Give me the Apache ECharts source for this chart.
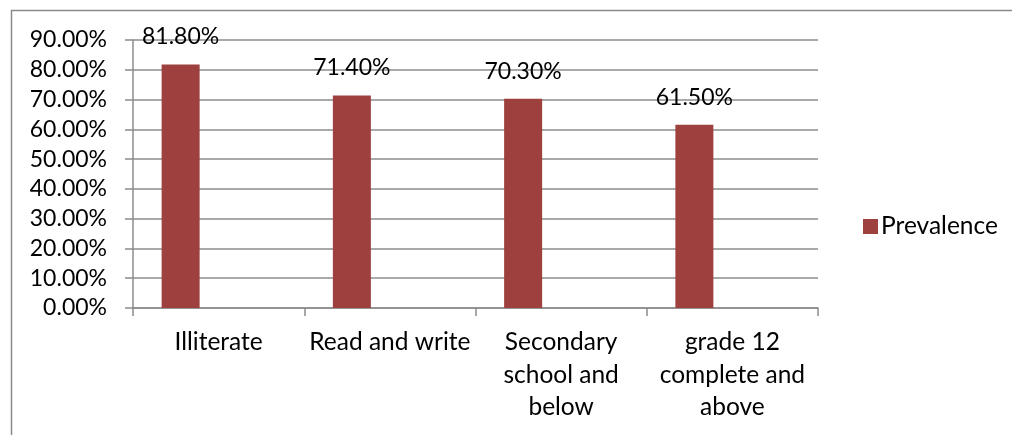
<!DOCTYPE html>
<html>
<head>
<meta charset="utf-8">
<style>
  html, body { margin: 0; padding: 0; background: #ffffff; }
  #chart { width: 1012px; height: 435px; }
</style>
<script src="https://cdn.jsdelivr.net/npm/echarts@6/dist/echarts.min.js"></script>
</head>
<body>
<div id="chart"></div>
<script>
// Prevalence by education level (percent)
const categories = ['Illiterate', 'Read and write', 'Secondary\nschool and\nbelow', 'grade 12\ncomplete and\nabove'];
const prevalence = [81.8, 71.4, 70.3, 61.5];
// Two unused slots in the cluster (no values), keeping the bar at the left of each group
const emptySlotA = [null, null, null, null];
const emptySlotB = [null, null, null, null];

const FONT = 'Lato, "Open Sans", sans-serif';
const GRID_COLOR = '#8c8c8c';
const BAR_COLOR = '#9e413e';

const chart = echarts.init(document.getElementById('chart'), null, { renderer: 'canvas' });

chart.setOption({
  animation: false,
  backgroundColor: '#ffffff',
  graphic: [{
    type: 'rect',
    shape: { x: 11.5, y: 10.5, width: 1200, height: 600 },
    style: { fill: null, stroke: '#8a8a8a', lineWidth: 1.5 },
    silent: true
  }],
  grid: { left: 133, right: 194, top: 40, bottom: 127, containLabel: false },
  legend: {
    data: ['Prevalence'],
    orient: 'vertical',
    left: 858,
    top: 209,
    itemWidth: 15,
    itemHeight: 15,
    itemGap: 8,
    icon: 'rect',
    textStyle: { fontFamily: FONT, fontSize: 24.5, color: '#000000', padding: [0, 0, 0, -2] }
  },
  xAxis: {
    type: 'category',
    data: categories,
    axisLine: { lineStyle: { color: GRID_COLOR, width: 1.5 } },
    axisTick: { show: true, length: 8, lineStyle: { color: GRID_COLOR, width: 1.5 } },
    axisLabel: {
      interval: 0,
      margin: 18,
      fontFamily: FONT,
      fontSize: 24.5,
      color: '#000000',
      lineHeight: 32.5,
      align: 'center'
    }
  },
  yAxis: {
    type: 'value',
    min: 0,
    max: 90,
    interval: 10,
    axisLine: { show: true, lineStyle: { color: GRID_COLOR, width: 1.5 } },
    axisTick: { show: true, length: 8, lineStyle: { color: GRID_COLOR, width: 1.5 } },
    splitLine: { show: true, lineStyle: { color: GRID_COLOR, width: 1.5 } },
    axisLabel: {
      margin: 26,
      fontFamily: FONT,
      fontSize: 23,
      color: '#000000',
      formatter: v => v.toFixed(2) + '%'
    }
  },
  series: [
    {
      name: 'Prevalence',
      type: 'bar',
      data: prevalence,
      barWidth: 38,
      barGap: '0%',
      itemStyle: { color: BAR_COLOR },
      label: {
        show: true,
        position: 'top',
        distance: 16,
        fontFamily: FONT,
        fontSize: 23,
        color: '#000000',
        formatter: p => p.value.toFixed(2) + '%'
      }
    },
    { name: 'slot2', type: 'bar', data: emptySlotA, barWidth: 38, barGap: '0%' },
    { name: 'slot3', type: 'bar', data: emptySlotB, barWidth: 38, barGap: '0%' }
  ]
});
</script>
</body>
</html>
